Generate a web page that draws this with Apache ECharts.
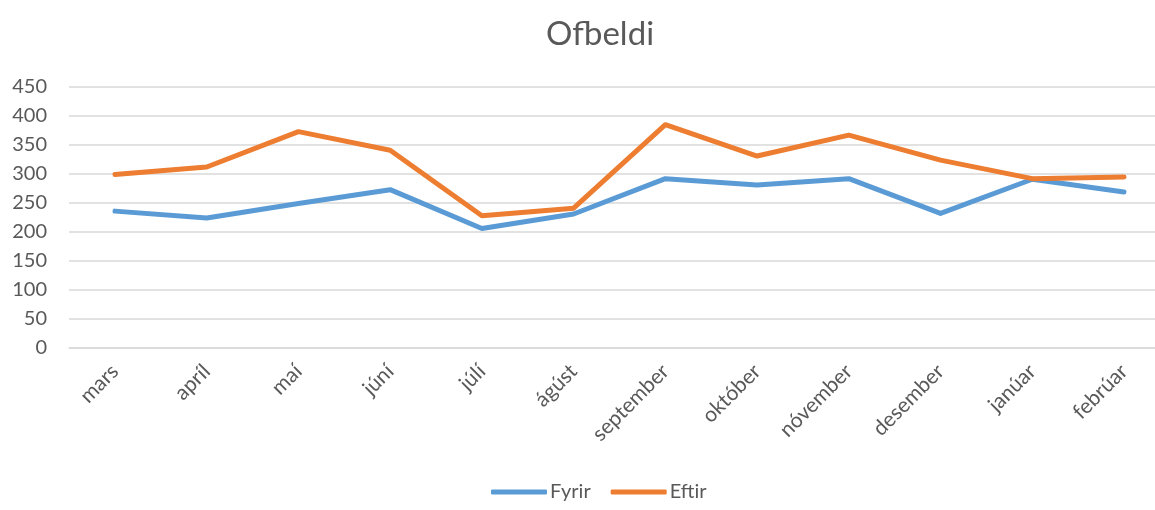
<!DOCTYPE html>
<html lang="is">
<head>
	<meta charset="UTF-8">
	<title>Ofbeldi</title>
	<script src="https://cdn.jsdelivr.net/npm/echarts@6/dist/echarts.min.js"></script>
	<style>
		html,body{margin:0;padding:0;background:#fff;}
		#chart{width:1155px;height:510px;}
	</style>
</head>
<body>
	<div id="chart"></div>
<script>
	var months = ['mars', 'apríl', 'maí', 'júní', 'júlí', 'ágúst', 'september', 'október', 'nóvember', 'desember', 'janúar', 'febrúar'];
	var fyrir = [236, 224, 249, 273, 206, 231, 292, 281, 292, 232, 291, 269];
	var eftir = [299, 312, 373, 341, 228, 241, 385, 331, 367, 324, 292, 295];

	var font = 'Lato, "Open Sans", sans-serif';
	var myChart = echarts.init(document.getElementById('chart'));

	// grid 0 carries the gridlines and y labels, grid 1 the lines and month labels
	// (the original plot area runs past the right edge of the crop)
	myChart.setOption({
		animation: false,
		textStyle: {fontFamily: font},
		title: {
			text: 'Ofbeldi',
			left: 541,
			top: 13,
			textStyle: {fontFamily: font, fontSize: 33, fontWeight: 'normal', color: '#595959'}
		},
		legend: {
			bottom: 3,
			left: 486,
			itemWidth: 56,
			itemHeight: 5,
			itemGap: 20,
			icon: 'roundRect',
			textStyle: {fontFamily: font, fontSize: 20, color: '#595959', padding: [0, 0, 0, -2]},
			data: ['Fyrir', 'Eftir']
		},
		grid: [
			{left: 69, right: 0, top: 87, bottom: 162, containLabel: false},
			{left: 115, right: 31, top: 87, bottom: 162, containLabel: false}
		],
		xAxis: [
			{
				gridIndex: 0,
				type: 'category',
				data: months,
				axisLine: {show: true, lineStyle: {color: '#d9d9d9', width: 1.5}},
				axisTick: {show: false},
				axisLabel: {show: false}
			},
			{
				gridIndex: 1,
				type: 'category',
				data: months,
				boundaryGap: false,
				axisLine: {show: false},
				axisTick: {show: false},
				axisLabel: {rotate: 45, margin: 20, fontSize: 21, color: '#595959', fontFamily: font, interval: 0}
			}
		],
		yAxis: [
			{
				gridIndex: 0,
				type: 'value',
				min: 0,
				max: 450,
				interval: 50,
				axisLine: {show: false},
				axisTick: {show: false},
				axisLabel: {margin: 22, fontSize: 20, color: '#595959', fontFamily: font},
				splitLine: {lineStyle: {color: '#d9d9d9', width: 1.5}}
			},
			{
				gridIndex: 1,
				type: 'value',
				min: 0,
				max: 450,
				interval: 50,
				show: false,
				splitLine: {show: false}
			}
		],
		series: [
			{
				name: 'Fyrir',
				type: 'line',
				xAxisIndex: 1,
				yAxisIndex: 1,
				data: fyrir,
				symbol: 'none',
				lineStyle: {width: 5, color: '#5B9BD5', cap: 'round', join: 'round'},
				itemStyle: {color: '#5B9BD5'}
			},
			{
				name: 'Eftir',
				type: 'line',
				xAxisIndex: 1,
				yAxisIndex: 1,
				data: eftir,
				symbol: 'none',
				lineStyle: {width: 5, color: '#ED7D31', cap: 'round', join: 'round'},
				itemStyle: {color: '#ED7D31'}
			}
		]
	});
</script>
</body>
</html>
